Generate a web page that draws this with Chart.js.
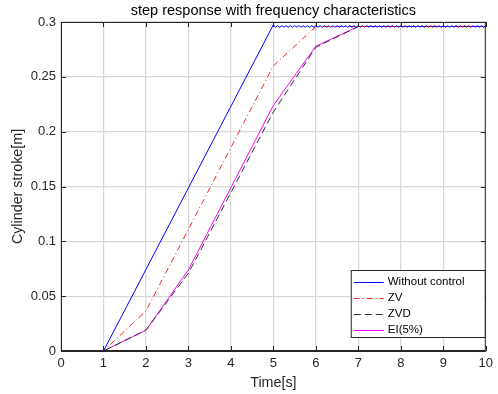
<!DOCTYPE html>
<html>
<head>
<meta charset="utf-8">
<script src="https://cdn.jsdelivr.net/npm/chart.js@4.4.1/dist/chart.umd.min.js"></script>
<style>
  html, body { margin: 0; padding: 0; background: #fff; }
  #wrap { width: 498px; height: 394px; }
</style>
</head>
<body>
<div id="wrap"><canvas id="c" width="498" height="394"></canvas></div>
<script>
// data
const xTicks = [0, 1, 2, 3, 4, 5, 6, 7, 8, 9, 10];
const yTicks = [0, 0.05, 0.1, 0.15, 0.2, 0.25, 0.3];

// without control: ramp then a fine ripple around the final stroke
const blueT = [0, 1,
  5.0, 5.05, 5.1, 5.15, 5.2, 5.25, 5.3, 5.35, 5.4, 5.45, 5.5, 5.55, 5.6, 5.65, 5.7, 5.75, 5.8, 5.85, 5.9, 5.95,
  6.0, 6.05, 6.1, 6.15, 6.2, 6.25, 6.3, 6.35, 6.4, 6.45, 6.5, 6.55, 6.6, 6.65, 6.7, 6.75, 6.8, 6.85, 6.9, 6.95,
  7.0, 7.05, 7.1, 7.15, 7.2, 7.25, 7.3, 7.35, 7.4, 7.45, 7.5, 7.55, 7.6, 7.65, 7.7, 7.75, 7.8, 7.85, 7.9, 7.95,
  8.0, 8.05, 8.1, 8.15, 8.2, 8.25, 8.3, 8.35, 8.4, 8.45, 8.5, 8.55, 8.6, 8.65, 8.7, 8.75, 8.8, 8.85, 8.9, 8.95,
  9.0, 9.05, 9.1, 9.15, 9.2, 9.25, 9.3, 9.35, 9.4, 9.45, 9.5, 9.55, 9.6, 9.65, 9.7, 9.75, 9.8, 9.85, 9.9, 9.95, 10.0];
const blueY = [0, 0,
  0.2975, 0.2952, 0.2967, 0.2952, 0.2967, 0.2952, 0.2967, 0.2952, 0.2967, 0.2952, 0.2967, 0.2952, 0.2967, 0.2952, 0.2967, 0.2952, 0.2967, 0.2952, 0.2967, 0.2952,
  0.2967, 0.2952, 0.2967, 0.2952, 0.2967, 0.2952, 0.2967, 0.2952, 0.2967, 0.2952, 0.2967, 0.2952, 0.2967, 0.2952, 0.2967, 0.2952, 0.2967, 0.2952, 0.2967, 0.2952,
  0.2967, 0.2952, 0.2967, 0.2952, 0.2967, 0.2952, 0.2967, 0.2952, 0.2967, 0.2952, 0.2967, 0.2952, 0.2967, 0.2952, 0.2967, 0.2952, 0.2967, 0.2952, 0.2967, 0.2952,
  0.2967, 0.2952, 0.2967, 0.2952, 0.2967, 0.2952, 0.2967, 0.2952, 0.2967, 0.2952, 0.2967, 0.2952, 0.2967, 0.2952, 0.2967, 0.2952, 0.2967, 0.2952, 0.2967, 0.2952,
  0.2967, 0.2952, 0.2967, 0.2952, 0.2967, 0.2952, 0.2967, 0.2952, 0.2967, 0.2952, 0.2967, 0.2952, 0.2967, 0.2952, 0.2967, 0.2952, 0.2967, 0.2952, 0.2967, 0.2952, 0.2967];

const zvT = [0, 1, 2, 5, 6, 10];
const zvY = [0, 0, 0.0365, 0.26, 0.2959, 0.2959];

const zvdT = [0, 1, 2, 3, 5, 6, 7, 10];
const zvdY = [0, 0, 0.019, 0.071, 0.218, 0.277, 0.2959, 0.2959];

const eiT = [0, 1, 2, 3, 5, 6, 7, 10];
const eiY = [0, 0, 0.019, 0.074, 0.224, 0.278, 0.2959, 0.2959];

const seriesNames = ['Without control', 'ZV', 'ZVD', 'EI(5%)'];
const chartTitle = 'step response with frequency characteristics';

const pts = (t, y) => t.map((v, i) => ({ x: v, y: y[i] }));
const axisCol = '#262626';
const font = 'Liberation Sans, Arial, sans-serif';

const line = (label, data, color, dash) => ({
    label, data, borderColor: color, backgroundColor: color,
    borderWidth: 1, borderDash: dash, pointRadius: 0, tension: 0, fill: false
});

// title over the plot, box, inward ticks and legend in matlab style
const matlabFrame = {
    id: 'matlabFrame',
    afterDatasetsDraw(chart) {
        const { ctx, chartArea: a, scales: { x, y } } = chart;
        ctx.save();
        ctx.fillStyle = '#000';
        ctx.font = '14.5px ' + font;
        ctx.textAlign = 'center';
        ctx.textBaseline = 'middle';
        ctx.fillText(chartTitle, (a.left + a.right) / 2, 11);

        ctx.strokeStyle = axisCol;
        ctx.lineWidth = 1;
        ctx.beginPath();
        ctx.rect(a.left + 0.5, a.top + 0.5, a.right - a.left - 1, a.bottom - a.top - 1);
        xTicks.forEach(v => {
            const px = Math.round(x.getPixelForValue(v)) + 0.5;
            ctx.moveTo(px, a.bottom); ctx.lineTo(px, a.bottom - 5);
            ctx.moveTo(px, a.top); ctx.lineTo(px, a.top + 5);
        });
        yTicks.forEach(v => {
            const py = Math.round(y.getPixelForValue(v)) + 0.5;
            ctx.moveTo(a.left, py); ctx.lineTo(a.left + 5, py);
            ctx.moveTo(a.right, py); ctx.lineTo(a.right - 5, py);
        });
        ctx.stroke();

        // legend
        const w = 134, h = 67;
        const lx = a.right - w - 1, ly = a.bottom - h - 14;
        ctx.fillStyle = '#fff';
        ctx.fillRect(lx, ly, w, h);
        ctx.strokeRect(lx + 0.5, ly + 0.5, w, h);
        ctx.font = '11.5px ' + font;
        ctx.textAlign = 'left';
        chart.data.datasets.forEach((ds, i) => {
            const ry = ly + 11.5 + i * 16.2;
            ctx.strokeStyle = ds.borderColor;
            ctx.setLineDash(ds.borderDash || []);
            ctx.beginPath();
            ctx.moveTo(lx + 3, Math.round(ry) + 0.5);
            ctx.lineTo(lx + 33, Math.round(ry) + 0.5);
            ctx.stroke();
            ctx.setLineDash([]);
            ctx.fillStyle = '#000';
            ctx.fillText(ds.label, lx + 37, ry);
        });
        ctx.restore();
    }
};

new Chart(document.getElementById('c'), {
    type: 'line',
    data: {
        datasets: [
            line(seriesNames[0], pts(blueT, blueY), '#0000ff', []),
            line(seriesNames[1], pts(zvT, zvY), '#ff2020', [6, 3, 1, 3]),
            line(seriesNames[2], pts(zvdT, zvdY), '#333333', [7, 4]),
            line(seriesNames[3], pts(eiT, eiY), '#ff00ff', [])
        ]
    },
    options: {
        responsive: false,
        animation: false,
        layout: { padding: { left: 0, right: 11, top: 22, bottom: 0 } },
        plugins: {
            legend: { display: false },
            tooltip: { enabled: false },
            title: { display: false }
        },
        scales: {
            x: {
                type: 'linear', min: 0, max: 10,
                afterBuildTicks: s => { s.ticks = xTicks.map(v => ({ value: v })); },
                afterFit: s => { s.height = 43; },
                grid: { color: '#d8d8d8', lineWidth: 1.2, drawTicks: false },
                border: { color: axisCol },
                ticks: { color: axisCol, font: { size: 13, family: font }, padding: 5, maxRotation: 0 },
                title: { display: true, text: 'Time[s]', color: axisCol, font: { size: 14.3, family: font }, padding: { top: 0, bottom: 2.5 } }
            },
            y: {
                type: 'linear', min: 0, max: 0.3,
                afterBuildTicks: s => { s.ticks = yTicks.map(v => ({ value: v })); },
                afterFit: s => { s.width = 61; },
                grid: { color: '#d8d8d8', lineWidth: 1.2, drawTicks: false },
                border: { color: axisCol },
                ticks: { color: axisCol, font: { size: 13, family: font }, padding: 5, callback: v => String(+v.toFixed(2)) },
                title: { display: true, text: 'Cylinder stroke[m]', color: axisCol, font: { size: 14.3, family: font }, padding: { top: 9, bottom: 0 } }
            }
        }
    },
    plugins: [matlabFrame]
});
</script>
</body>
</html>
